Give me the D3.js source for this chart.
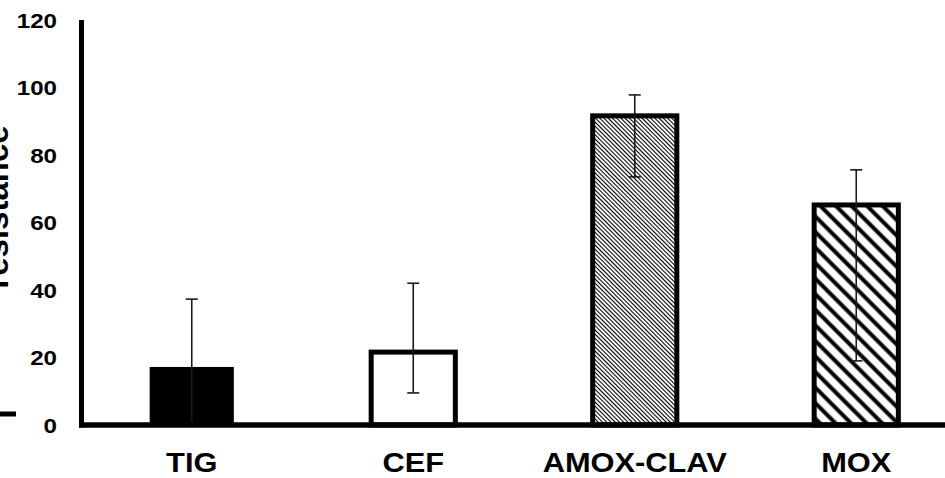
<!DOCTYPE html>
<html>
<head>
<meta charset="utf-8">
<script src="https://cdn.jsdelivr.net/npm/d3@7"></script>
<style>
  body { margin: 0; background: #fff; }
  text { font-family: "Liberation Sans", Arial, sans-serif; font-weight: bold; fill: #000; }
</style>
</head>
<body>
<div id="chart"></div>
<script>
(function(){
  // drugs and % resistance
  const drugs = ["TIG", "CEF", "AMOX-CLAV", "MOX"];
  const resistance = [17.2, 21.6, 91.6, 65.2];
  const errUpper = [37.3, 42, 97.8, 75.6];
  const errLower = [0, 9.5, 73.5, 19];
  const fills = ["solid", "empty", "fineHatch", "wideHatch"];
  const yTicks = [0, 20, 40, 60, 80, 100, 120];

  const width = 945, height = 478;

  const svg = d3.select("#chart").append("svg")
    .attr("width", width)
    .attr("height", height);

  // hatch patterns
  const defs = svg.append("defs");
  function hatch(id, size, lw) {
    const p = defs.append("pattern")
      .attr("id", id)
      .attr("patternUnits", "userSpaceOnUse")
      .attr("width", size)
      .attr("height", size)
      .attr("patternTransform", "rotate(-45)");
    p.append("rect").attr("width", size).attr("height", size).attr("fill", "#fff");
    p.append("line")
      .attr("x1", size / 2).attr("x2", size / 2)
      .attr("y1", 0).attr("y2", size)
      .attr("stroke", "#000")
      .attr("stroke-width", lw);
  }
  hatch("fineHatch", 3, 1.1);
  hatch("wideHatch", 11, 4);

  const fillFor = f => f === "solid" ? "#000" : f === "empty" ? "#fff" : `url(#${f})`;

  const x = d3.scaleBand()
    .domain(drugs)
    .range([81, 967])
    .paddingInner(0.62)
    .paddingOuter(0.31);

  const y = d3.scaleLinear()
    .domain([0, 120])
    .range([425, 20]);

  // bars
  svg.selectAll(".bar")
    .data(drugs)
    .enter().append("rect")
    .attr("class", "bar")
    .attr("x", d => x(d))
    .attr("y", (d, i) => y(resistance[i]))
    .attr("width", x.bandwidth())
    .attr("height", (d, i) => y(0) - y(resistance[i]))
    .attr("fill", (d, i) => fillFor(fills[i]))
    .attr("stroke", "#000")
    .attr("stroke-width", (d, i) => fills[i] === "solid" ? 0 : 5);

  // error bars
  const cap = 6;
  const eb = svg.selectAll(".err")
    .data(drugs)
    .enter().append("g")
    .attr("class", "err")
    .attr("stroke", "#1a1a1a")
    .attr("stroke-width", 1.6);
  eb.append("line")
    .attr("x1", d => x(d) + x.bandwidth() / 2)
    .attr("x2", d => x(d) + x.bandwidth() / 2)
    .attr("y1", (d, i) => y(errLower[i]))
    .attr("y2", (d, i) => y(errUpper[i]));
  eb.append("line")
    .attr("x1", d => x(d) + x.bandwidth() / 2 - cap)
    .attr("x2", d => x(d) + x.bandwidth() / 2 + cap)
    .attr("y1", (d, i) => y(errUpper[i]))
    .attr("y2", (d, i) => y(errUpper[i]));
  eb.filter((d, i) => errLower[i] > 0).append("line")
    .attr("x1", d => x(d) + x.bandwidth() / 2 - cap)
    .attr("x2", d => x(d) + x.bandwidth() / 2 + cap)
    .attr("y1", d => y(errLower[drugs.indexOf(d)]))
    .attr("y2", d => y(errLower[drugs.indexOf(d)]));

  // axes lines
  svg.append("line")
    .attr("x1", 81.5).attr("x2", 81.5)
    .attr("y1", y(120)).attr("y2", y(0) + 2.5)
    .attr("stroke", "#000").attr("stroke-width", 5);
  svg.append("line")
    .attr("x1", 79).attr("x2", width)
    .attr("y1", y(0)).attr("y2", y(0))
    .attr("stroke", "#000").attr("stroke-width", 5.5);

  // y tick labels
  svg.selectAll(".ytick")
    .data(yTicks)
    .enter().append("text")
    .attr("class", "ytick")
    .attr("transform", d => `translate(57,${y(d) + 1}) scale(1.15,1)`)
    .attr("text-anchor", "end")
    .attr("dominant-baseline", "central")
    .style("font-size", "21px")
    .text(d => d);

  // x labels
  svg.selectAll(".xlabel")
    .data(drugs)
    .enter().append("text")
    .attr("class", "xlabel")
    .attr("transform", d => `translate(${x(d) + x.bandwidth() / 2},472) scale(1.1,1)`)
    .attr("text-anchor", "middle")
    .style("font-size", "28px")
    .text(d => d);

  // y axis title, cut off at the left edge as in the original
  svg.append("text")
    .attr("transform", "translate(8,207) rotate(-90)")
    .attr("text-anchor", "middle")
    .style("font-size", "33px")
    .text("resistance");
  svg.append("line")
    .attr("x1", 0).attr("x2", 16)
    .attr("y1", 414).attr("y2", 414)
    .attr("stroke", "#000").attr("stroke-width", 5);
})();
</script>
</body>
</html>
